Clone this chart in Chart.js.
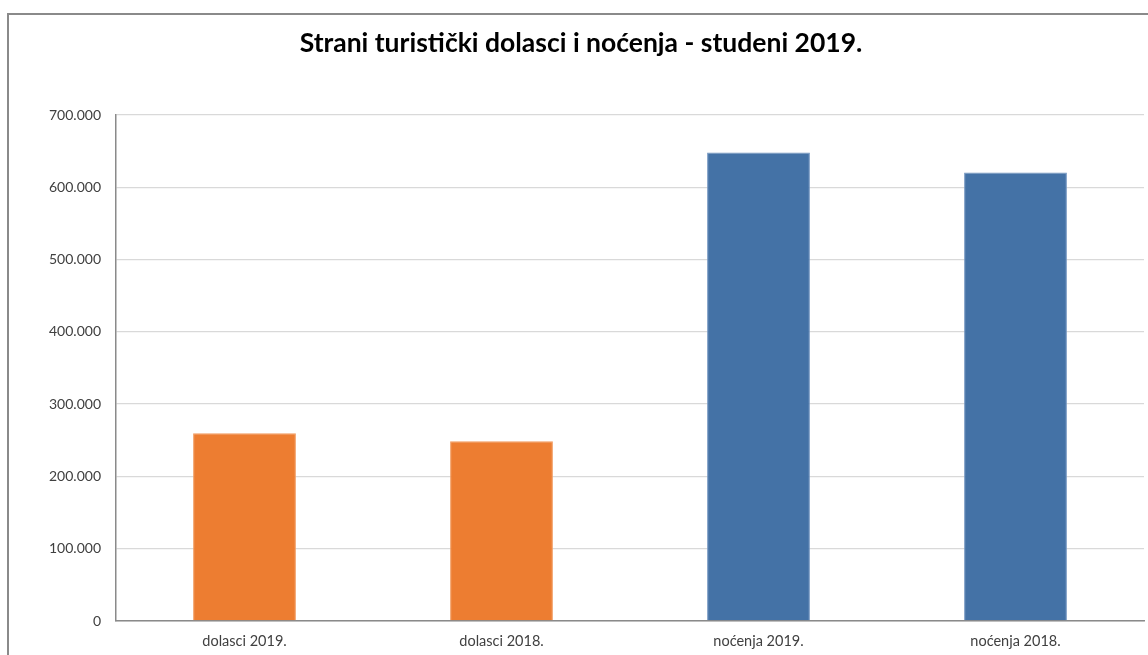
<!DOCTYPE html>
<html>
<head>
<meta charset="utf-8">
<script src="https://cdn.jsdelivr.net/npm/chart.js@4.4.0/dist/chart.umd.min.js"></script>
<style>
  html, body { margin: 0; padding: 0; background: #fff; }
  #wrap { width: 1148px; height: 655px; }
</style>
</head>
<body>
<div id="wrap"><canvas id="myChart"></canvas></div>
<script>
// data
const categories = ["dolasci 2019.", "dolasci 2018.", "noćenja 2019.", "noćenja 2018."];
const values = [259600, 248500, 648000, 620500];
const barColors = ["#ED7D31", "#ED7D31", "#4472A6", "#4472A6"];
const barBorders = ["#F29A5E", "#F29A5E", "#7094C0", "#7094C0"];
const yTicks = [0, 100000, 200000, 300000, 400000, 500000, 600000, 700000];

function fmt(v) {
  return String(v).replace(/\B(?=(\d{3})+(?!\d))/g, ".");
}

// frame of the chart object (left + top edge only visible)
const framePlugin = {
  id: "frame",
  beforeDraw(chart) {
    const ctx = chart.ctx;
    ctx.save();
    ctx.strokeStyle = "#8a8a8a";
    ctx.lineWidth = 2;
    ctx.beginPath();
    ctx.moveTo(8, chart.height);
    ctx.lineTo(8, 14);
    ctx.lineTo(chart.width, 14);
    ctx.stroke();
    ctx.restore();
  },
};

const config = {
  type: "bar",
  data: {
    labels: categories,
    datasets: [
      {
        data: values,
        backgroundColor: barColors,
        borderColor: barBorders,
        borderWidth: 1,
        categoryPercentage: 1,
        barPercentage: 0.4,
      },
    ],
  },
  options: {
    responsive: true,
    maintainAspectRatio: false,
    animation: false,
    layout: { padding: { left: 18, right: 4, top: 0, bottom: 0 } },
    plugins: {
      legend: { display: false },
      tooltip: { enabled: false },
      title: {
        display: true,
        text: "Strani turistički dolasci i noćenja - studeni 2019.",
        color: "#000",
        font: { family: "Lato", size: 26.5, weight: "bold" },
        padding: { top: 28, bottom: 55.2 },
      },
    },
    scales: {
      x: {
        grid: { display: false, drawTicks: false },
        border: { color: "#8a8a8a", width: 1.5 },
        ticks: { color: "#404040", font: { family: "Lato", size: 14.5 }, padding: 12 },
        afterFit(scale) { scale.height = 34; },
      },
      y: {
        min: 0,
        max: 700000,
        afterBuildTicks(scale) { scale.ticks = yTicks.map((v) => ({ value: v })); },
        grid: { color: "#d9d9d9", lineWidth: 1.3, drawTicks: false },
        border: { color: "#8a8a8a", width: 1.5 },
        ticks: {
          color: "#404040",
          font: { family: "Lato", size: 14 },
          padding: 15,
          callback: (v) => fmt(v),
        },
        afterFit(scale) { scale.width = 98; },
      },
    },
  },
  plugins: [framePlugin],
};

const myChart = new Chart(document.getElementById("myChart"), config);
</script>
</body>
</html>
